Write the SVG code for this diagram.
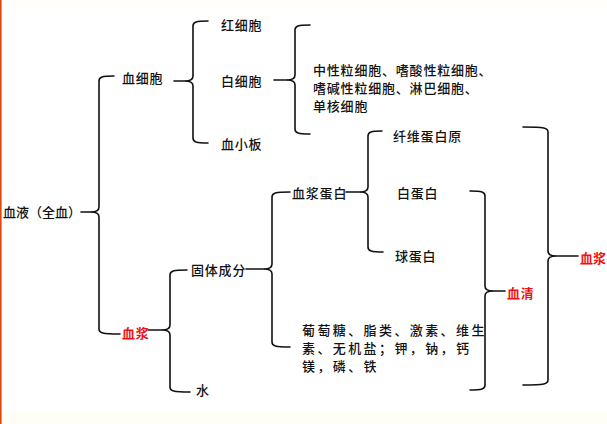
<svg xmlns="http://www.w3.org/2000/svg" width="607" height="424" viewBox="0 0 607 424">
<style>
text{font-family:"Noto Sans CJK SC","Noto Sans",sans-serif;font-size:13px;fill:#111;dominant-baseline:central;letter-spacing:0.8px;font-weight:500}
.red{fill:#ee1111;font-weight:bold}
.wide{letter-spacing:2.4px}
.br{fill:none;stroke:#111;stroke-width:1.6;stroke-linecap:round}
</style>
<rect width="607" height="424" fill="#ffffff"/>
<rect y="0" width="607" height="7" fill="#fffef8"/>
<rect y="412" width="607" height="12" fill="#fffef4"/>
<rect x="0" y="0" width="1.6" height="424" fill="#e0470f"/>

<g id="connectors">
<path class="br" d="M114,76 C102,76 99,77 99,81 L99,207 Q99,212 91,212 Q99,212 99,217 L99,329 C99,333 102,334 120,334"/>
<line class="br" x1="81" y1="212" x2="91" y2="212"/>
<path class="br" d="M208,21 C196,21 193,22 193,26 L193,76 Q193,81 185,81 Q193,81 193,86 L193,138 C193,142 196,143 208,143"/>
<line class="br" x1="174" y1="81" x2="185" y2="81"/>
<path class="br" d="M310,25 C298,25 295,26 295,30 L295,75 Q295,80 287,80 Q295,80 295,85 L295,129 C295,133 298,134 310,134"/>
<line class="br" x1="274" y1="80" x2="287" y2="80"/>
<path class="br" d="M382,131 C371,131 368,132 368,136 L368,187 Q368,192 360,192 Q368,192 368,197 L368,247 C368,251 371,252 383,252"/>
<line class="br" x1="346" y1="192" x2="360" y2="192"/>
<path class="br" d="M290,192 C275,192 272,193 272,197 L272,264 Q272,269 264,269 Q272,269 272,274 L272,342 C272,346 275,347 290,347"/>
<line class="br" x1="246" y1="269" x2="264" y2="269"/>
<path class="br" d="M187,270 C173,270 170,271 170,275 L170,325 Q170,330 162,330 Q170,330 170,335 L170,387 C170,391 173,392 190,392"/>
<line class="br" x1="148" y1="330" x2="162" y2="330"/>
<path class="br" d="M470,191 C482,191 485,192 485,196 L485,286 Q485,291 493,291 Q485,291 485,296 L485,385 C485,389 482,390 470,390"/>
<line class="br" x1="493" y1="291" x2="505" y2="291"/>
<path class="br" d="M523,127 C545,127 548,128 548,132 L548,251 Q548,256 556,256 Q548,256 548,261 L548,380 C548,384 545,385 523,385"/>
<line class="br" x1="556" y1="256" x2="578" y2="256"/>
</g>

<g id="n-xueye"><text x="3" y="211" style="letter-spacing:0">血液（全血）</text></g>
<g id="n-xuexibao"><text x="122" y="77">血细胞</text></g>
<g id="n-hongxibao"><text x="221" y="24">红细胞</text></g>
<g id="n-baixibao"><text x="221" y="80">白细胞</text></g>
<g id="n-xuexiaoban"><text x="221" y="143">血小板</text></g>
<g id="n-baixibao-types">
<text x="313" y="69">中性粒细胞、嗜酸性粒细胞、</text>
<text x="313" y="87">嗜碱性粒细胞、淋巴细胞、</text>
<text x="313" y="105">单核细胞</text>
</g>
<g id="n-xuejiang"><text class="red" x="122" y="332">血浆</text></g>
<g id="n-guticf"><text x="191" y="269">固体成分</text></g>
<g id="n-shui"><text x="196" y="389">水</text></g>
<g id="n-xuejiangdanbai"><text x="292" y="192">血浆蛋白</text></g>
<g id="n-qita">
<text class="wide" x="302" y="329">葡萄糖、脂类、激素、维生</text>
<text class="wide" x="302" y="347">素、无机盐；钾，钠，钙</text>
<text class="wide" x="302" y="365">镁，磷、铁</text>
</g>
<g id="n-xianweidanbaiyuan"><text x="393" y="135">纤维蛋白原</text></g>
<g id="n-baidanbai"><text x="397" y="192">白蛋白</text></g>
<g id="n-qiudanbai"><text x="395" y="255">球蛋白</text></g>
<g id="n-xueqing"><text class="red" x="507" y="292">血清</text></g>
<g id="n-xuejiang2"><text class="red" x="580" y="257" style="letter-spacing:0">血浆</text></g>
</svg>
